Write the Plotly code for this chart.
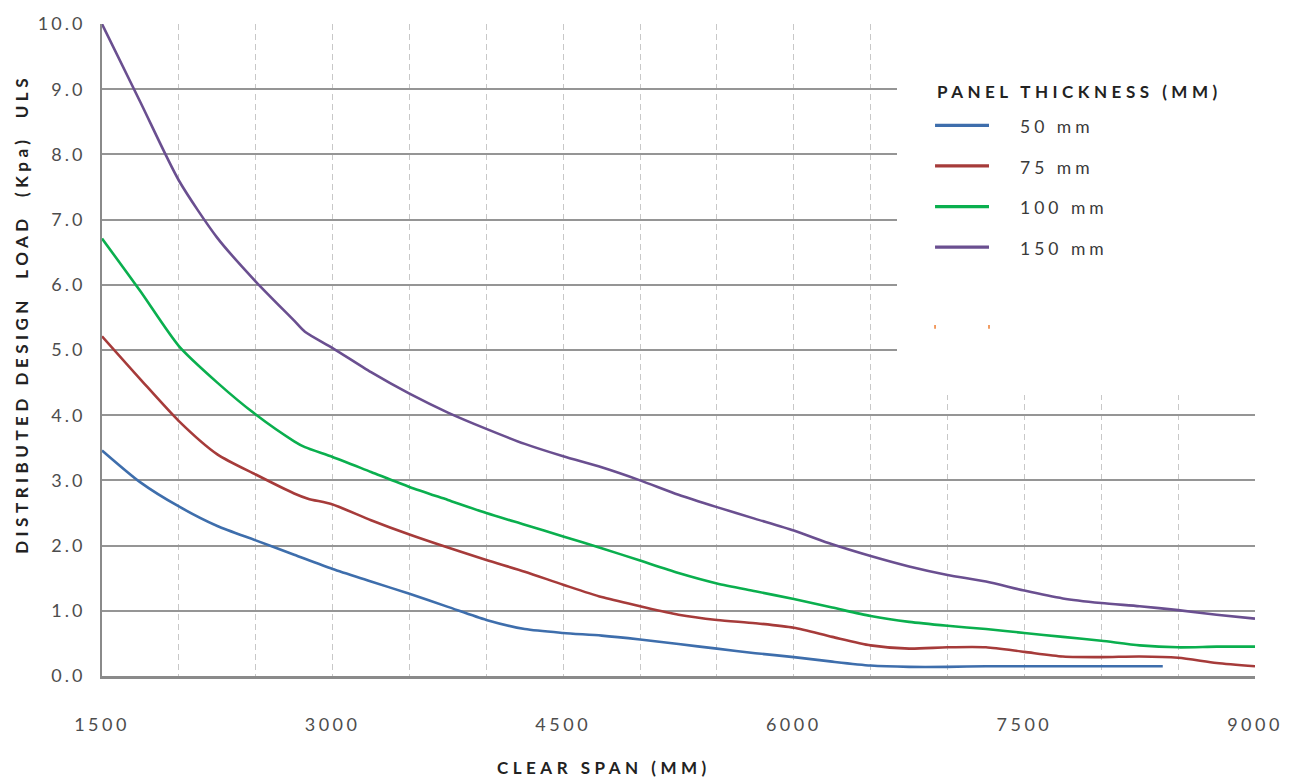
import plotly.graph_objects as go

# ---------------- data ----------------
series_names = ["50 mm", "75 mm", "100 mm", "150 mm"]
series_colors = ["#3e6eac", "#a63b3a", "#0aaf4e", "#6a4f90"]

x_50 = [1500, 1750, 2000, 2250, 2500, 2750, 3000, 3250, 3500, 3750, 4000, 4250, 4500,
        4750, 5000, 5250, 5500, 5750, 6000, 6250, 6500, 6750, 7000, 7250, 7500, 7750,
        8000, 8250, 8400]
y_50 = [3.46, 2.97, 2.60, 2.30, 2.08, 1.86, 1.64, 1.45, 1.26, 1.06, 0.86, 0.72, 0.66,
        0.62, 0.56, 0.49, 0.42, 0.35, 0.29, 0.22, 0.16, 0.14, 0.14, 0.15, 0.15, 0.15,
        0.15, 0.15, 0.15]

x_75 = [1500, 1750, 2000, 2250, 2500, 2750, 2840, 3000, 3250, 3500, 3750, 4000, 4250,
        4500, 4750, 5000, 5250, 5500, 5750, 6000, 6250, 6500, 6750, 7000, 7250, 7500,
        7750, 8000, 8250, 8500, 8750, 9000]
y_75 = [5.21, 4.55, 3.91, 3.40, 3.09, 2.80, 2.72, 2.63, 2.39, 2.17, 1.97, 1.78, 1.60,
        1.40, 1.21, 1.07, 0.94, 0.86, 0.81, 0.74, 0.60, 0.47, 0.42, 0.44, 0.44, 0.37,
        0.30, 0.29, 0.30, 0.28, 0.20, 0.15]

x_100 = [1500, 1750, 2000, 2250, 2500, 2750, 2820, 3000, 3250, 3500, 3750, 4000, 4250,
         4500, 4750, 5000, 5250, 5500, 5750, 6000, 6250, 6500, 6750, 7000, 7250, 7500,
         7750, 8000, 8250, 8500, 8750, 9000]
y_100 = [6.71, 5.90, 5.06, 4.50, 4.01, 3.60, 3.51, 3.36, 3.13, 2.90, 2.70, 2.50, 2.32,
         2.14, 1.96, 1.77, 1.58, 1.42, 1.30, 1.18, 1.05, 0.92, 0.83, 0.77, 0.72, 0.66,
         0.60, 0.54, 0.47, 0.44, 0.45, 0.45]

x_150 = [1500, 1750, 2000, 2250, 2500, 2750, 2820, 3000, 3250, 3500, 3750, 4000, 4250,
         4500, 4750, 5000, 5250, 5500, 5750, 6000, 6250, 6500, 6750, 7000, 7250, 7500,
         7750, 8000, 8250, 8500, 8750, 9000]
y_150 = [10.0, 8.80, 7.60, 6.72, 6.05, 5.45, 5.28, 5.03, 4.66, 4.33, 4.04, 3.79, 3.56,
         3.37, 3.20, 3.00, 2.78, 2.59, 2.41, 2.23, 2.02, 1.84, 1.68, 1.55, 1.45, 1.31,
         1.19, 1.12, 1.07, 1.01, 0.94, 0.88]

x_tick_vals = [1500, 3000, 4500, 6000, 7500, 9000]
y_tick_vals = [0, 1, 2, 3, 4, 5, 6, 7, 8, 9, 10]

legend_title = "PANEL THICKNESS (MM)"
x_title = "CLEAR SPAN (MM)"
y_title = "DISTRIBUTED DESIGN  LOAD  (Kpa)  ULS"

# ---------------- figure ----------------
FONT = "Lato, 'Open Sans', sans-serif"
TICK_COLOR = "#4d4d4d"
TITLE_COLOR = "#222222"


def spaced(text, px):
    return f'<span style="letter-spacing:{px}px">{text}</span>'


all_x = [x_50, x_75, x_100, x_150]
all_y = [y_50, y_75, y_100, y_150]

fig = go.Figure()
for name, color, xs, ys in zip(series_names, series_colors, all_x, all_y):
    fig.add_trace(go.Scatter(
        x=xs, y=ys, name=name, mode="lines",
        line=dict(color=color, width=2.6, shape="spline", smoothing=0.7),
        showlegend=False, hoverinfo="x+y+name",
    ))

fig.update_layout(
    width=1301, height=778,
    margin=dict(l=102, r=46, t=17, b=102),
    paper_bgcolor="white", plot_bgcolor="white",
    font=dict(family=FONT, color=TICK_COLOR),
    showlegend=False,
)

fig.update_xaxes(
    range=[1500, 9000],
    tickvals=x_tick_vals,
    ticktext=[spaced(str(v), 3.5) for v in x_tick_vals],
    tickfont=dict(size=18, color=TICK_COLOR, family=FONT),
    ticks="", ticklabelstandoff=30,
    showline=True, linecolor="#8a8a8a", linewidth=3,
    showgrid=True, gridcolor="#c8c8c8", gridwidth=1.4, griddash="6px,4px",
    minor=dict(dtick=500, tick0=1500, showgrid=True, gridcolor="#c8c8c8",
               gridwidth=1.4, griddash="6px,4px", ticks=""),
    zeroline=False,
)

fig.update_yaxes(
    range=[0, 10],
    tickvals=y_tick_vals,
    ticktext=[spaced(f"{v:.1f}", 3) for v in y_tick_vals],
    tickfont=dict(size=18, color=TICK_COLOR, family=FONT),
    ticks="", ticklabelstandoff=11,
    showline=True, linecolor="#8a8a8a", linewidth=2,
    showgrid=True, gridcolor="#959595", gridwidth=1.5,
    zeroline=False,
)

# white panel behind the legend (hides grid lines there)
fig.add_shape(type="rect", xref="paper", yref="paper",
              x0=0.6895, x1=1.06, y0=0.431, y1=1.03,
              fillcolor="white", line=dict(width=0), layer="above")

# legend (title + samples + labels)
LEG_X0, LEG_X1, LEG_TXT_X = 0.7225, 0.7693, 0.7945
fig.add_annotation(xref="paper", yref="paper", x=LEG_X0, y=0.897,
                   xanchor="left", yanchor="middle", showarrow=False,
                   text=f"<b>{spaced(legend_title, 4.5)}</b>",
                   font=dict(size=17, color=TITLE_COLOR, family=FONT))

line_y = [0.8445, 0.7823, 0.7200, 0.6578]
for i, (name, color) in enumerate(zip(series_names, series_colors)):
    fig.add_shape(type="line", xref="paper", yref="paper",
                  x0=LEG_X0, x1=LEG_X1, y0=line_y[i], y1=line_y[i],
                  line=dict(color=color, width=3.2), layer="above")
    fig.add_annotation(xref="paper", yref="paper", x=LEG_TXT_X, y=line_y[i] - 0.002,
                       xanchor="left", yanchor="middle", showarrow=False,
                       text=spaced(name, 4),
                       font=dict(size=17.5, color="#3a3a3a", family=FONT))

# faint remnant marks of an unused legend entry
for xm in (LEG_X0, LEG_X1):
    fig.add_shape(type="line", xref="paper", yref="paper",
                  x0=xm, x1=xm, y0=0.5325, y1=0.5385,
                  line=dict(color="#ed7d31", width=1.5), layer="above")

# axis titles
fig.add_annotation(xref="paper", yref="paper", x=0.4354, y=-0.1396,
                   xanchor="center", yanchor="middle", showarrow=False,
                   text=f"<b>{spaced(x_title, 4.5)}</b>",
                   font=dict(size=17, color=TITLE_COLOR, family=FONT))
fig.add_annotation(xref="paper", yref="paper", x=-0.0694, y=0.5554,
                   xanchor="center", yanchor="middle", showarrow=False,
                   textangle=-90,
                   text=f"<b>{spaced(y_title, 4.5)}</b>",
                   font=dict(size=17, color=TITLE_COLOR, family=FONT))

post = """
document.documentElement.style.margin='0';
document.body.style.margin='0';
document.body.style.padding='0';
var gd=document.getElementById('{plot_id}');
gd.style.position='absolute'; gd.style.left='0px'; gd.style.top='0px';
"""

fig.write_html("out.html", post_script=post, config={"displayModeBar": False})
